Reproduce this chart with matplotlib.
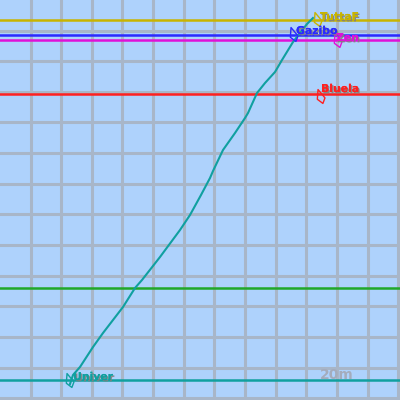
import numpy as np
import matplotlib
matplotlib.use('Agg')
import matplotlib.pyplot as plt
import matplotlib.patheffects as pe
from matplotlib.path import Path

# pilotos: nombre, color, altura de la linea, posicion del icono
nombres = ['TuttaF', 'Gazibo', 'Zen', 'Bluela', 'Univer']
colores = ['#c8b400', '#2a2aff', '#e010d8', '#ff2020', '#10a0a0']
alturas = [20, 34.5, 40, 94, 380]
icono_x = [318, 294, 338, 321, 70]
icono_y = [19, 34, 40, 96, 380]
texto_x = [320, 296, 336, 321, 73]
texto_y = [17, 31, 38, 89, 377]

# linea verde (sin etiqueta)
verde_y = 288

# traza de Univer
traza_x = [70, 73, 80, 93, 103, 123, 135, 142, 160, 180, 190, 201, 210,
           213, 223, 235, 245, 248, 257, 265, 275, 282, 293, 300, 307, 313]
traza_y = [384, 375, 367, 347, 333, 307, 288, 280, 257, 230, 215, 195, 178,
           171, 150, 133, 118, 113, 93, 83, 72, 60, 42, 33, 24, 18]

fig = plt.figure(figsize=(4, 4), dpi=100)
ax = fig.add_axes([0, 0, 1, 1])
ax.set_facecolor('#aed2fc')
ax.set_xlim(0, 400)
ax.set_ylim(400, 0)

# cuadricula
paso = 30.65
ax.set_xticks(np.arange(30.5, 400, paso))
ax.set_yticks(np.arange(30.5, 400, paso))
ax.grid(True, color='#a8b6c8', linewidth=2.2)
ax.tick_params(length=0, labelbottom=False, labelleft=False)
for s in ax.spines.values():
    s.set_visible(False)
ax.set_axisbelow(True)

# lineas horizontales
for c, h in zip(colores, alturas):
    ax.axhline(h, color=c, linewidth=1.8)
ax.axhline(verde_y, color='#20a828', linewidth=1.8)

ax.plot(traza_x, traza_y, color='#10a0a0', linewidth=1.5)

# iconos
ala = Path([(-0.5, 1), (0.5, -0.2), (0.2, -1), (-0.6, -0.4), (-0.5, 1)],
           [Path.MOVETO, Path.LINETO, Path.LINETO, Path.LINETO, Path.CLOSEPOLY])
for c, x, y in zip(colores, icono_x, icono_y):
    ax.plot(x, y, marker=ala, markersize=10, markerfacecolor='none',
            markeredgecolor=c, markeredgewidth=1)

sombra = [pe.withSimplePatchShadow(offset=(1, -1), shadow_rgbFace='#808080', alpha=0.9), pe.Normal()]
for n, c, x, y in zip(nombres, colores, texto_x, texto_y):
    ax.text(x, y, n, color=c, fontsize=7.8, fontweight='bold', va='center', ha='left',
            path_effects=sombra)

ax.text(320, 375, '20m', color='#a4acbc', fontsize=10, fontweight='bold', va='center', ha='left')

fig.savefig('out.png', dpi=100)
